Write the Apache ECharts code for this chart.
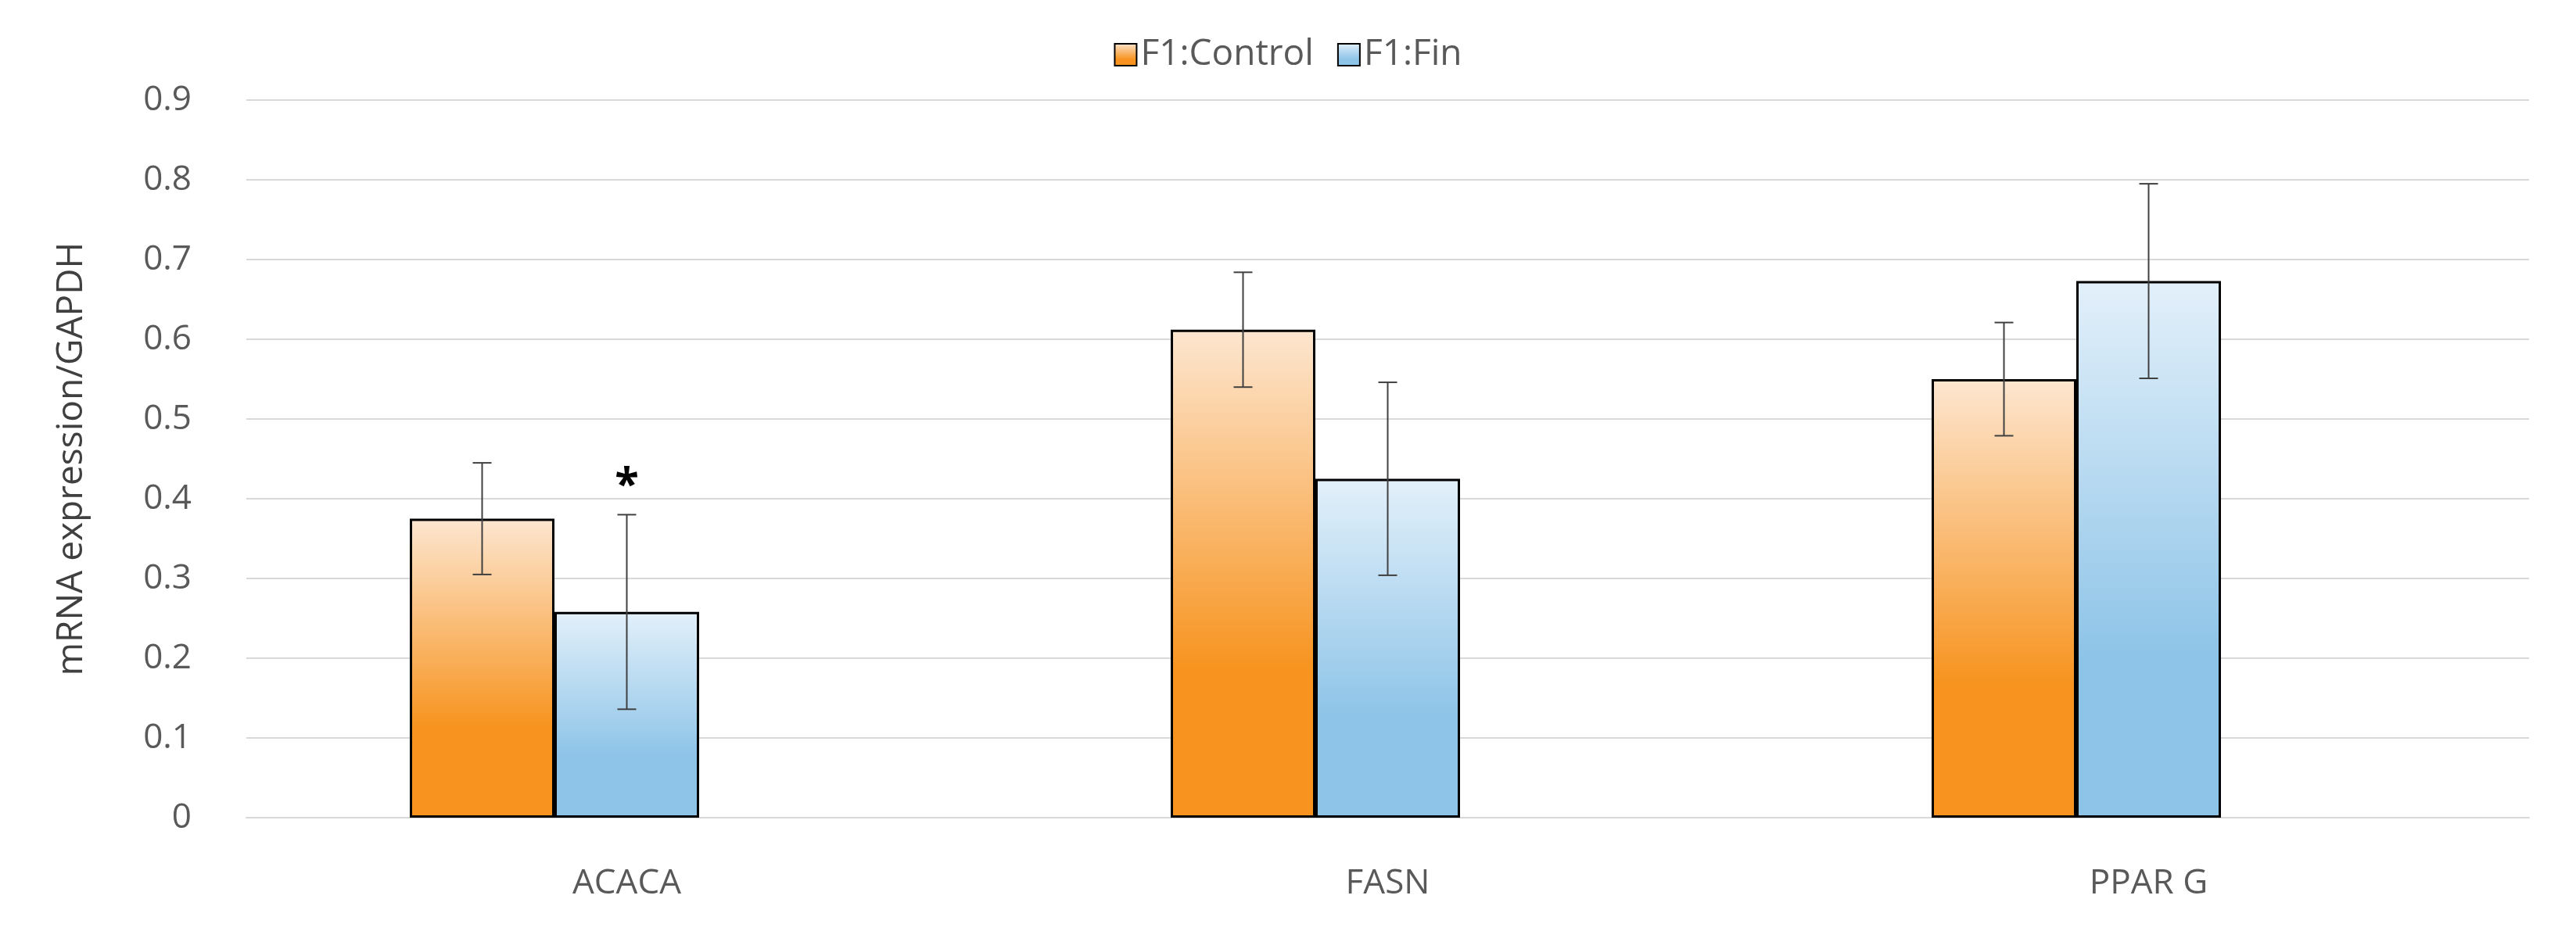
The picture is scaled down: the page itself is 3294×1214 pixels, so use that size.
<!DOCTYPE html>
<html><head><meta charset="utf-8">
<script src="https://cdn.jsdelivr.net/npm/echarts@6/dist/echarts.min.js"></script>
<style>html,body{margin:0;background:#fff}#c{width:3294px;height:1214px}</style>
</head><body><div id="c"></div>
<script>
const categories = ['ACACA', 'FASN', 'PPAR G'];
const controlValues = [0.375, 0.612, 0.550];
const controlErrors = [0.070, 0.072, 0.071];
const finValues = [0.258, 0.425, 0.673];
const finErrors = [0.122, 0.121, 0.122];
const finMarks = ['*', '', ''];
const yTicks = [0, 0.1, 0.2, 0.3, 0.4, 0.5, 0.6, 0.7, 0.8, 0.9];

const BW = 185;
const font = '"Open Sans", "Noto Sans", sans-serif';
const chart = echarts.init(document.getElementById('c'));

function grad(top, bottom) {
  return new echarts.graphic.LinearGradient(0, 0, 0, 1, [
    {offset: 0, color: top}, {offset: 0.7, color: bottom}, {offset: 1, color: bottom}
  ]);
}
function errSeries(vals, errs, off, marks) {
  return {
    type: 'custom', silent: true, z: 5,
    data: vals.map((v, i) => [i, v, errs[i]]),
    renderItem: (params, api) => {
      const i = api.value(0), v = api.value(1), e = api.value(2);
      const hi = api.coord([i, v + e]), lo = api.coord([i, v - e]);
      const x = hi[0] + off, cap = 12;
      const st = {stroke: '#404040', lineWidth: 2};
      const ch = [
        {type: 'line', shape: {x1: x, y1: hi[1], x2: x, y2: lo[1]}, style: st},
        {type: 'line', shape: {x1: x - cap, y1: hi[1], x2: x + cap, y2: hi[1]}, style: st},
        {type: 'line', shape: {x1: x - cap, y1: lo[1], x2: x + cap, y2: lo[1]}, style: st}
      ];
      if (marks && marks[i]) ch.push({type: 'text', style: {text: marks[i], x: x, y: hi[1] - 8,
        align: 'center', verticalAlign: 'bottom', font: 'bold 56px ' + font, fill: '#000'}});
      return {type: 'group', children: ch};
    }
  };
}

chart.setOption({
  animation: false,
  textStyle: {fontFamily: font},
  legend: {top: 42, left: 'center', itemWidth: 28, itemHeight: 28, itemGap: 30, icon: 'rect',
    textStyle: {fontSize: 46, color: '#595959', fontFamily: font},
    data: ['F1:Control', 'F1:Fin']},
  grid: {left: 315, right: 60, top: 128, bottom: 168},
  xAxis: {type: 'category', data: categories,
    axisLine: {lineStyle: {color: '#d9d9d9', width: 2}}, axisTick: {show: false},
    axisLabel: {fontSize: 44, color: '#595959', margin: 62}},
  yAxis: {type: 'value', min: 0, max: 0.9, interval: 0.1,
    name: 'mRNA expression/GAPDH', nameLocation: 'middle', nameGap: 200,
    nameTextStyle: {fontSize: 46, color: '#404040'},
    axisLine: {show: false}, axisTick: {show: false},
    splitLine: {lineStyle: {color: '#d9d9d9', width: 2}},
    axisLabel: {fontSize: 44, color: '#595959', margin: 70,
      formatter: v => { const t = yTicks.find(t => Math.abs(t - v) < 1e-6); return t === undefined ? '' : String(t); }}},
  series: [
    {name: 'F1:Control', type: 'bar', data: controlValues, barWidth: BW, barGap: '0%',
      itemStyle: {color: grad('#fde6d0', '#f7931e'), borderColor: '#000', borderWidth: 3}},
    {name: 'F1:Fin', type: 'bar', data: finValues, barWidth: BW,
      itemStyle: {color: grad('#e3f0fa', '#8ec4e8'), borderColor: '#000', borderWidth: 3}},
    {name: 'blank', type: 'bar', data: [], barWidth: BW},
    errSeries(controlValues, controlErrors, -BW, null),
    errSeries(finValues, finErrors, 0, finMarks)
  ]
});
</script></body></html>
